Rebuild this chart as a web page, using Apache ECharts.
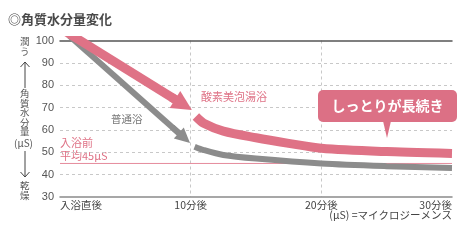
<!DOCTYPE html>
<html><head><meta charset="utf-8">
<script src="https://cdn.jsdelivr.net/npm/echarts@6/dist/echarts.min.js"></script>
<style>html,body{margin:0;padding:0;background:#fff}#c{width:461px;height:241px}</style>
</head><body><div id="c"></div>
<script>
// ---- data ----
const xTicks = {0: '入浴直後', 10: '10分後', 20: '20分後', 30: '30分後'};
const yTicks = [30, 40, 50, 60, 70, 80, 90, 100];
// 酸素美泡湯浴 (pink): before arrow, after arrow
const pinkTimeA = [0, 9.45];
const pinkValA = [105.6, 71.3];
const pinkTimeB = [10.4, 11, 12.5, 15, 17.5, 20, 25, 30];
const pinkValB = [66, 63, 59.5, 56.5, 54, 51.8, 50.3, 49.5];
// 普通浴 (gray)
const grayTimeA = [0, 9.52];
const grayValA = [105.8, 56.4];
const grayTimeB = [10.3, 11, 12.5, 15, 20, 25, 30];
const grayValB = [52.5, 51, 48.8, 47.2, 45, 43.8, 43];
const beforeAvg = 45;

const PINK = '#df7286', GRAY = '#8c8c8c', FONT = '"Noto Sans CJK JP", sans-serif';
const zip = (t, v) => t.map((x, i) => [x, v[i]]);
// short segment at the end of a polyline, used only to orient the arrow head
const headSeg = (t, v) => {
  const n = t.length, f = 0.9;
  return [[t[n - 2] + f * (t[n - 1] - t[n - 2]), v[n - 2] + f * (v[n - 1] - v[n - 2])], [t[n - 1], v[n - 1]]];
};

const chart = echarts.init(document.getElementById('c'), null, {renderer: 'canvas'});
chart.setOption({
  animation: false,
  textStyle: {fontFamily: FONT},
  title: {text: '◎角質水分量変化', left: 3, top: 8, textStyle: {fontSize: 13, fontWeight: 'bold', color: '#4a4a4a', fontFamily: FONT}},
  grid: {left: 60, right: 9, top: 40.5, bottom: 44, containLabel: false},
  xAxis: [{
    type: 'value', min: 0, max: 30, interval: 10,
    axisLine: {show: true, lineStyle: {color: '#8a8a8a', width: 1.5}},
    axisTick: {show: false},
    axisLabel: {formatter: v => xTicks[v] || '', color: '#444', fontSize: 10.5, margin: 3,
      alignMinLabel: 'left', alignMaxLabel: 'right'},
    splitLine: {show: true, lineStyle: {type: [3, 3], color: ['rgba(0,0,0,0)', '#c8c8c8', '#c8c8c8', 'rgba(0,0,0,0)'], width: 1}}
  }, {
    type: 'value', position: 'top', min: 0, max: 30,
    axisLine: {show: true, lineStyle: {color: '#555', width: 1.5}},
    axisTick: {show: false}, axisLabel: {show: false}, splitLine: {show: false}
  }],
  yAxis: {
    type: 'value', min: yTicks[0], max: yTicks[yTicks.length - 1], interval: 10,
    axisLine: {show: false}, axisTick: {show: false},
    axisLabel: {color: '#555', fontSize: 11, margin: 6, fontFamily: '"Liberation Sans", sans-serif'},
    splitLine: {show: true, lineStyle: {type: [3, 3], color: ['rgba(0,0,0,0)', '#c8c8c8', '#c8c8c8', '#c8c8c8', '#c8c8c8', '#c8c8c8', '#c8c8c8', 'rgba(0,0,0,0)'], width: 1}}
  },
  series: [
    {type: 'line', data: [[0, beforeAvg], [30, beforeAvg]], symbol: 'none', silent: true,
      lineStyle: {color: '#e58c9c', width: 1}, z: 1},
    {type: 'line', data: zip(grayTimeA, grayValA), symbol: 'none', clip: true,
      lineStyle: {color: GRAY, width: 6}, z: 2},
    {type: 'lines', coordinateSystem: 'cartesian2d',
      data: [{coords: headSeg(grayTimeA, grayValA)}],
      symbol: ['none', 'triangle'], symbolSize: [0, 15],
      lineStyle: {color: GRAY, width: 6, opacity: 1, curveness: 0}, z: 2},
    {type: 'line', data: zip(grayTimeB, grayValB), smooth: 0.3, symbol: 'none', clip: true,
      lineStyle: {color: GRAY, width: 6}, z: 2},
    {type: 'line', data: zip(pinkTimeA, pinkValA), symbol: 'none', clip: true,
      lineStyle: {color: PINK, width: 9}, z: 3},
    {type: 'lines', coordinateSystem: 'cartesian2d',
      data: [{coords: headSeg(pinkTimeA, pinkValA)}],
      symbol: ['none', 'triangle'], symbolSize: [0, 20],
      lineStyle: {color: PINK, width: 9, opacity: 1, curveness: 0}, z: 3},
    {type: 'line', data: zip(pinkTimeB, pinkValB), smooth: 0.3, symbol: 'none', clip: true,
      lineStyle: {color: PINK, width: 9}, z: 3}
  ],
  graphic: [
    {type: 'text', left: 20, top: 37, style: {text: '潤\nう', fill: '#555', font: '9.5px ' + FONT, lineHeight: 9.5}},
    {type: 'polyline', shape: {points: [[25, 62], [25, 88]]}, style: {stroke: '#444', lineWidth: 1}},
    {type: 'polyline', shape: {points: [[20.5, 67], [25, 62], [29.5, 67]]}, style: {stroke: '#444', lineWidth: 1, fill: null}},
    {type: 'text', left: 20, top: 89, style: {text: '角\n質\n水\n分\n量', fill: '#555', font: '9.5px ' + FONT, lineHeight: 9.5}},
    {type: 'text', left: 14, top: 138, style: {text: '(μS)', fill: '#555', font: '10px ' + FONT}},
    {type: 'polyline', shape: {points: [[25, 151], [25, 177]]}, style: {stroke: '#444', lineWidth: 1}},
    {type: 'polyline', shape: {points: [[20.5, 172], [25, 177], [29.5, 172]]}, style: {stroke: '#444', lineWidth: 1, fill: null}},
    {type: 'text', left: 20, top: 181, style: {text: '乾\n燥', fill: '#555', font: '9.5px ' + FONT, lineHeight: 9.5}},
    {type: 'text', left: 201, top: 91, style: {text: '酸素美泡湯浴', fill: PINK, font: '11px ' + FONT}},
    {type: 'text', left: 111, top: 114, style: {text: '普通浴', fill: '#777', font: '10.5px ' + FONT}},
    {type: 'text', left: 60, top: 136, style: {text: '入浴前\n平均45μS', fill: PINK, font: '11px ' + FONT, lineHeight: 13}},
    {type: 'text', right: 9, top: 210, style: {text: '(μS) =マイクロジーメンス', fill: '#444', font: '10.5px ' + FONT}},
    {type: 'rect', shape: {x: 318, y: 90, width: 139, height: 32, r: 5}, style: {fill: '#dc7085'}, z: 10},
    {type: 'polygon', shape: {points: [[383, 121], [391, 121], [387, 138]]}, style: {fill: '#dc7085'}, z: 10},
    {type: 'text', x: 387.5, y: 106, style: {text: 'しっとりが長続き', fill: '#fff', font: 'bold 14px ' + FONT, align: 'center', verticalAlign: 'middle'}, z: 11}
  ]
});
</script></body></html>
